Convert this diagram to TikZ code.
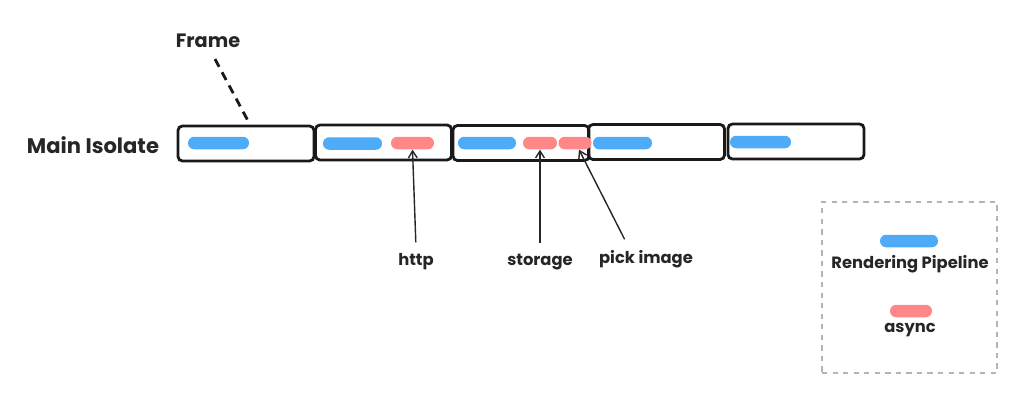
\documentclass[tikz,border=0pt]{standalone}
\usepackage{fontspec}
\setmainfont{Poppins}
\usetikzlibrary{arrows.meta}
\definecolor{pipeblue}{HTML}{4DABF7}
\definecolor{asyncred}{HTML}{FF8787}
\definecolor{legendgray}{HTML}{ADB5BD}

\begin{document}
\begin{tikzpicture}[x=0.02cm,y=-0.02cm]
\tikzset{
  every node/.style={font=\fontsize{9.3}{11}\selectfont\bfseries, text=black!85},
  big/.style={font=\fontsize{11}{13}\selectfont\bfseries},
  frame/.style={draw=black!90, line width=1.6pt, rounded corners=2.5pt,
    minimum width=2.72cm, minimum height=0.7cm, inner sep=0pt},
  bar/.style={rounded corners=3.5pt, minimum height=0.25cm, inner sep=0pt},
  pipe/.style={bar, fill=pipeblue},
  async/.style={bar, fill=asyncred},
  callout/.style={black!85, line width=0.8pt, -{Straight Barb[length=4pt,width=5pt]}, shorten <=3pt}
}
\useasboundingbox (0,0) rectangle (1024,400);

% frames of the main isolate
\node[frame] (f1) at (246,143.5) {};
\node[frame] (f2) at (383.5,142.5) {};
\node[frame] (f3) at (521,143) {};
\node[frame] (f4) at (656.5,142) {};
\node[frame] (f5) at (796,141.5) {};

% work inside the frames
\node[pipe, minimum width=1.22cm] (p1) at (218.5,143) {};
\node[pipe, minimum width=1.18cm] (p2) at (352.5,143.5) {};
\node[async, minimum width=0.86cm] (a1) at (412.5,143) {};
\node[pipe, minimum width=1.16cm] (p3) at (487,143) {};
\node[async, minimum width=0.68cm] (a2) at (540,143) {};
\node[async, minimum width=0.66cm] (a3) at (575,143) {};
\node[pipe, minimum width=1.18cm] (p4) at (622.5,143) {};
\node[pipe, minimum width=1.22cm] (p5) at (760.5,142) {};

% labels
\node[big, font=\fontsize{12}{14}\selectfont\bfseries] (isolate) at (93,145) {Main Isolate};
\node[big] (frame) at (208,41) {Frame};
\node (http) at (416,262) {http};
\node (storage) at (540,262) {storage};
\node (pick) at (646,259) {pick image};

\draw[black!90, line width=1.6pt, dash pattern=on 5pt off 3.5pt]
  ([xshift=0.14cm,yshift=-0.1cm]frame.south) -- ([xshift=0.08cm]f1.north);
\draw[callout] (http.north) -- (a1.south);
\draw[callout] (storage.north) -- (a2.south);
\draw[callout] ([xshift=-0.38cm]pick.north) -- ([xshift=0.08cm]a3.south);

% legend
\node[draw=legendgray, dashed, line width=0.8pt, minimum width=3.5cm,
  minimum height=3.42cm] (legend) at (909.5,287.5) {};
\node[pipe, minimum width=1.16cm] (lpipe) at (909,241) {};
\node (lpipetext) at (910,264) {Rendering Pipeline};
\node[async, minimum width=0.84cm] (lasync) at (911,311) {};
\node (lasynctext) at (910,330) {async};
\end{tikzpicture}
\end{document}
